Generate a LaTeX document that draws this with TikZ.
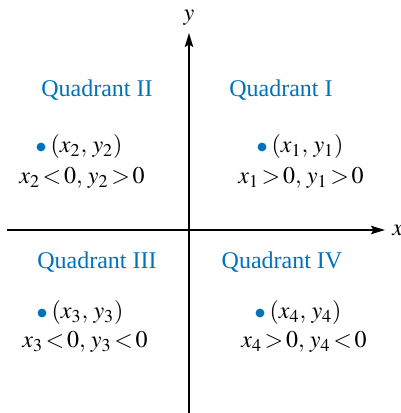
\documentclass[tikz,border=0pt]{standalone}
\usepackage{mathptmx}
\usepackage{fontspec}
\setmainfont{Liberation Serif}
\usetikzlibrary{positioning,arrows.meta}
\definecolor{quadblue}{RGB}{0,114,188}
\thickmuskip=2mu
\begin{document}
\begin{tikzpicture}[x=0.5pt,y=0.5pt,
  every node/.style={font=\fontsize{12}{14}\selectfont},
  quadname/.style={text=quadblue},
  ptdot/.style={circle,fill=quadblue,inner sep=0pt,minimum size=4.4pt},
  ptlabel/.style={inner sep=0pt,right=2.2pt of #1},
  axis/.style={line width=0.75pt,-{Stealth[length=7pt,width=4.2pt,inset=1.2pt]}}]
\useasboundingbox (-189,-183) rectangle (212,230);
\coordinate (xstart) at (-182,0);
\coordinate (xend) at (196,0);
\coordinate (ystart) at (0,-190);
\coordinate (yend) at (0,197);
\draw[axis] (xstart)--(xend) node[right=0pt] {$x$};
\draw[axis] (ystart)--(yend) node[above] {$y$};
\node[quadname] (q1) at (92,140) {Quadrant I};
\node[quadname] (q2) at (-92,140) {Quadrant II};
\node[quadname] (q3) at (-92,-32) {Quadrant III};
\node[quadname] (q4) at (93,-32) {Quadrant IV};
\node[ptdot] (p1) at (73,83) {};
\node[ptlabel=p1] (p1lab) {$(x_1,\mskip2mu y_1)$};
\node[ptdot] (p2) at (-148,83) {};
\node[ptlabel=p2] (p2lab) {$(x_2,\mskip2mu y_2)$};
\node[ptdot] (p3) at (-147,-83) {};
\node[ptlabel=p3] (p3lab) {$(x_3,\mskip2mu y_3)$};
\node[ptdot] (p4) at (71,-83) {};
\node[ptlabel=p4] (p4lab) {$(x_4,\mskip2mu y_4)$};
\node (c1) at (112,52) {$x_1 > 0,\, y_1 > 0$};
\node (c2) at (-107,52) {$x_2 < 0,\, y_2 > 0$};
\node (c3) at (-104,-112) {$x_3 < 0,\, y_3 < 0$};
\node (c4) at (115,-112) {$x_4 > 0,\, y_4 < 0$};
\end{tikzpicture}
\end{document}
